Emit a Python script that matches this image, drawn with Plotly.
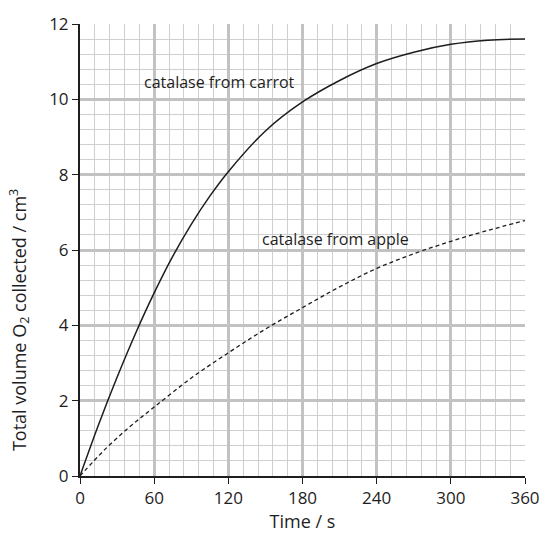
import plotly.graph_objects as go

time_s = [0, 15, 30, 45, 60, 75, 90, 105, 120, 150, 180, 210, 240, 270, 300, 330, 360]
carrot = [0, 1.36, 2.62, 3.79, 4.86, 5.83, 6.68, 7.43, 8.08, 9.16, 9.93, 10.5, 10.95, 11.25, 11.46, 11.57, 11.6]

apple_t = [0, 20, 40, 60, 90, 120, 150, 180, 210, 240, 270, 300, 330, 360]
apple = [0, 0.7, 1.3, 1.83, 2.6, 3.27, 3.9, 4.47, 5.02, 5.51, 5.9, 6.23, 6.52, 6.78]

x_ticks = [0, 60, 120, 180, 240, 300, 360]
y_ticks = [0, 2, 4, 6, 8, 10, 12]

labels = ["catalase from carrot", "catalase from apple"]
label_x = [50, 146]
label_y = [10.47, 6.29]

FONT = "Open Sans"
INK = "#1e1e1e"
fig = go.Figure()
fig.add_trace(go.Scatter(x=time_s, y=carrot, mode="lines",
                         line=dict(color=INK, width=1.5, shape="spline"),
                         showlegend=False, hoverinfo="skip"))
fig.add_trace(go.Scatter(x=apple_t, y=apple, mode="lines",
                         line=dict(color=INK, width=1.3, dash="4px,3px", shape="spline"),
                         showlegend=False, hoverinfo="skip"))
for t, lx, ly in zip(labels, label_x, label_y):
    fig.add_annotation(x=lx, y=ly, text=t, showarrow=False, xanchor="left", yanchor="middle",
                       font=dict(family=FONT, size=16, color=INK))

# y-axis title as a paper annotation (sits lower than the plot centre in the reference)
fig.add_annotation(xref="paper", yref="paper", x=-0.137, y=0.345,
                   text="Total volume O<sub>2</sub> collected / cm<sup>3</sup>",
                   textangle=-90, showarrow=False, xanchor="center", yanchor="middle",
                   font=dict(family=FONT, size=18, color=INK))

grid_major = "#c2c2c2"
grid_minor = "#cfcfcf"
fig.update_xaxes(range=[0, 360], tickvals=x_ticks, ticktext=[str(v) for v in x_ticks],
                 showgrid=True, gridcolor=grid_major, gridwidth=3,
                 minor=dict(dtick=12, tick0=0, showgrid=True, gridcolor=grid_minor, gridwidth=1.2),
                 showline=True, linecolor=INK, linewidth=2, zeroline=False,
                 ticks="outside", ticklen=6, tickcolor=INK, tickwidth=1,
                 tickfont=dict(family=FONT, size=17, color=INK),
                 title=dict(text="Time / s", font=dict(family=FONT, size=18, color=INK), standoff=2))
fig.update_yaxes(range=[0, 12], tickvals=y_ticks, ticktext=[str(v) for v in y_ticks],
                 showgrid=True, gridcolor=grid_major, gridwidth=3,
                 minor=dict(dtick=0.4, tick0=0, showgrid=True, gridcolor=grid_minor, gridwidth=1.2),
                 showline=True, linecolor=INK, linewidth=2, zeroline=False,
                 ticks="outside", ticklen=6, tickcolor=INK, tickwidth=1,
                 tickfont=dict(family=FONT, size=17, color=INK))
fig.update_layout(width=552, height=536, margin=dict(l=80, r=16, t=20, b=60),
                  plot_bgcolor="white", paper_bgcolor="white")
fig.write_html("out.html")
